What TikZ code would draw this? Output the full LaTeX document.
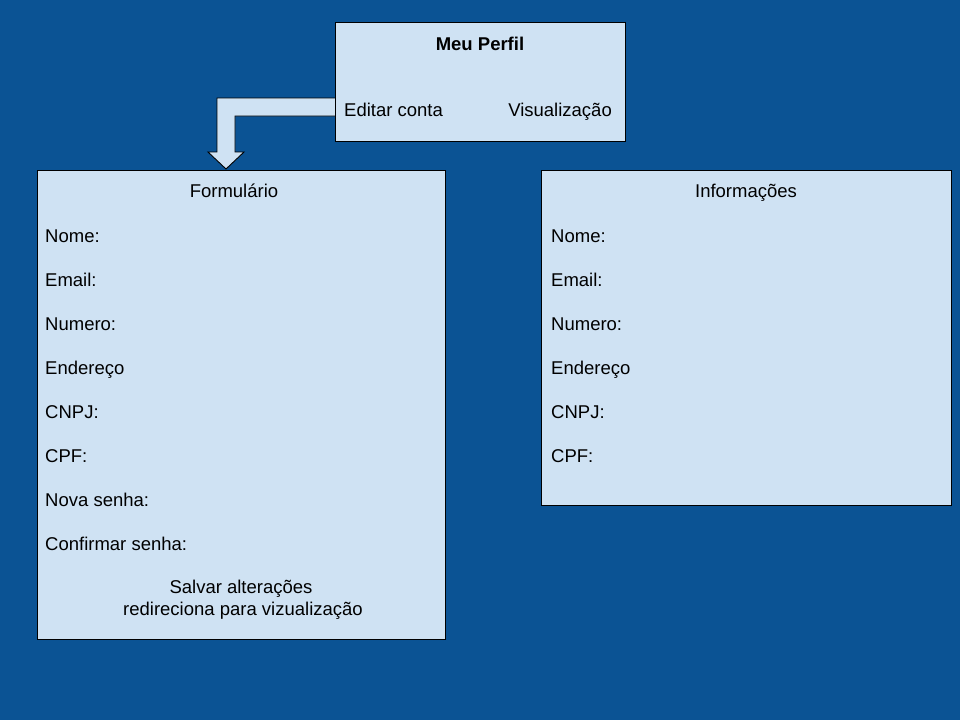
\documentclass[tikz,border=0pt]{standalone}
\usepackage{fontspec}
\setmainfont{Liberation Sans}
\definecolor{bgblue}{HTML}{0B5394}
\definecolor{boxfill}{HTML}{CFE2F3}
\begin{document}
\begin{tikzpicture}[x=1pt,y=-1pt,
  panel/.style={draw=black, line width=0.9pt, fill=boxfill, rectangle, inner sep=0pt},
  lbl/.style={inner sep=0pt, font=\fontsize{18.5}{22}\selectfont, text=black},
  lblL/.style={lbl, anchor=base west},
  lblC/.style={lbl, anchor=base},
  lblR/.style={lbl, anchor=base east}]
\fill[bgblue] (0,0) rectangle (960,720);
\useasboundingbox (0,0) rectangle (960,720);
% block arrow
\draw[line width=0.9pt, fill=boxfill, line join=miter]
  (336,98) -- (217,98) -- (217,152) -- (208,152) -- (226,169) -- (244,152) -- (235,152) -- (235,116) -- (336,116);
\node[panel, minimum width=290pt, minimum height=119pt] (perfil) at (480,81.5) {};
\node[panel, minimum width=408pt, minimum height=469pt] (form) at (241,404.5) {};
\node[panel, minimum width=410pt, minimum height=335pt] (info) at (746,337.5) {};
% top box texts
\node[lblC, font=\fontsize{18.5}{22}\selectfont\bfseries] (meu) at (480,50) {Meu Perfil};
\node[lblL] (editar) at (344,116) {Editar conta};
\node[lblR] (visu) at (612,116) {Visualização};
% form texts
\node[lblC] (ftitle) at (234,197) {Formulário};
\node[lblL] (f1) at (45,242) {Nome:};
\node[lblL] (f2) at (45,286) {Email:};
\node[lblL] (f3) at (45,330) {Numero:};
\node[lblL] (f4) at (45,374) {Endereço};
\node[lblL] (f5) at (45,418) {CNPJ:};
\node[lblL] (f6) at (45,462) {CPF:};
\node[lblL] (f7) at (45,506) {Nova senha:};
\node[lblL] (f8) at (45,550) {Confirmar senha:};
\node[lblC] (s1) at (241,593) {Salvar alterações};
\node[lblC] (s2) at (243,615) {redireciona para vizualização};
% info texts
\node[lblC] (ititle) at (746,197) {Informações};
\node[lblL] (i1) at (551,242) {Nome:};
\node[lblL] (i2) at (551,286) {Email:};
\node[lblL] (i3) at (551,330) {Numero:};
\node[lblL] (i4) at (551,374) {Endereço};
\node[lblL] (i5) at (551,418) {CNPJ:};
\node[lblL] (i6) at (551,462) {CPF:};
\end{tikzpicture}
\end{document}
